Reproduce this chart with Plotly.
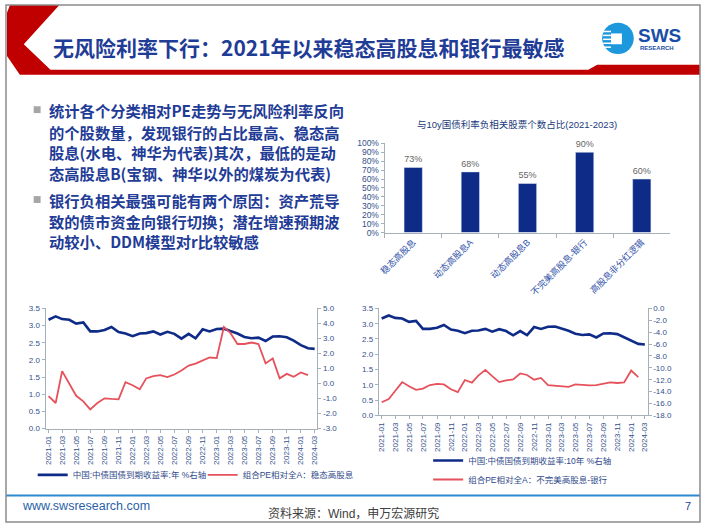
import plotly.graph_objects as go

W, H = 702, 527

# bar chart: share of stocks negatively correlated with 10y yield (2021-2023)
bar_cats = ["稳态高股息", "动态高股息A", "动态高股息B", "不完美高股息-银行", "高股息非分红逻辑"]
bar_vals = [73, 68, 55, 90, 60]

# monthly x labels 2021-01 .. 2024-03
months = [f"{y}-{m:02d}-01" for y in (2021, 2022, 2023, 2024) for m in range(1, 13)][:39]

# China 10y government bond yield (%)
yield_10y = [3.17, 3.27, 3.19, 3.17, 3.06, 3.09, 2.83, 2.83, 2.87, 2.96,
             2.81, 2.77, 2.69, 2.77, 2.78, 2.83, 2.74, 2.82, 2.76, 2.62,
             2.76, 2.63, 2.89, 2.83, 2.90, 2.91, 2.84, 2.77, 2.67, 2.63,
             2.65, 2.55, 2.68, 2.69, 2.66, 2.56, 2.43, 2.34, 2.32]

# relative PE vs all-A: stable high dividend
pe_stable = [-0.84, -1.30, 0.82, 0.01, -0.82, -1.19, -1.73, -1.30, -0.99, -1.03,
             -1.06, 0.08, -0.12, -0.38, 0.34, 0.49, 0.56, 0.42, 0.60, 0.86,
             1.19, 1.32, 1.54, 1.73, 1.69, 3.76, 3.37, 2.63, 2.63, 2.73,
             2.63, 1.34, 1.67, 0.34, 0.64, 0.45, 0.73, 0.56]

# relative PE vs all-A: imperfect high dividend - banks
pe_bank = [-15.8, -15.25, -13.9, -12.4, -13.1, -13.7, -13.5, -12.9, -12.7, -12.8,
           -13.6, -14.1, -12.05, -12.5, -11.3, -10.35, -11.4, -12.4, -12.1, -11.95,
           -10.95, -11.2, -12.0, -11.7, -12.9, -13.0, -13.05, -13.2, -12.8, -12.9,
           -12.95, -12.9, -12.65, -12.45, -12.55, -12.45, -10.45, -11.55]

NAVY = "#0f2b88"
RED = "#e6515b"
TXT = "#1f3c96"
TICK = "#33508c"
AXC = "#a6b0b8"


def fx(x):
    return x / W


def fy(y):
    return 1 - y / H


fig = go.Figure()

fig.add_trace(go.Bar(
    x=bar_cats, y=bar_vals, xaxis="x", yaxis="y", marker_color=NAVY,
    text=[f"{v}%" for v in bar_vals], texttemplate="%{text}", textposition="outside",
    cliponaxis=False, textfont=dict(size=9, color="#666666"), showlegend=False, width=0.32,
))

fig.add_trace(go.Scatter(
    x=months, y=yield_10y, xaxis="x2", yaxis="y2", mode="lines",
    line=dict(color=NAVY, width=2.6), name="中国:中债国债到期收益率:年 %右轴",
    legend="legend",
))
fig.add_trace(go.Scatter(
    x=months[:len(pe_stable)], y=pe_stable, xaxis="x2", yaxis="y3", mode="lines",
    line=dict(color=RED, width=1.8), name="组合PE相对全A：稳态高股息",
    legend="legend",
))
fig.add_trace(go.Scatter(
    x=months, y=yield_10y, xaxis="x3", yaxis="y4", mode="lines",
    line=dict(color=NAVY, width=2.6), name="中国:中债国债到期收益率:10年 %右轴",
    legend="legend2",
))
fig.add_trace(go.Scatter(
    x=months[:len(pe_bank)], y=pe_bank, xaxis="x3", yaxis="y5", mode="lines",
    line=dict(color=RED, width=1.8), name="组合PE相对全A：不完美高股息-银行",
    legend="legend2",
))

tickf = dict(size=8, color=TICK)
date_ax = dict(type="date", range=["2020-12-19", "2024-03-13"], dtick="M2",
               tick0="2021-01-01", tickformat="%Y-%m", tickangle=-90,
               showline=True, linecolor=AXC, ticks="outside", ticklen=3,
               tickcolor=AXC, showgrid=False, tickfont=tickf)
num_ax = dict(showline=True, linecolor=AXC, ticks="outside", ticklen=3,
              tickcolor=AXC, showgrid=False, zeroline=False, tickfont=tickf)


def labels(vals):
    return [f"{v:.1f}" for v in vals]


left_ticks = [i * 0.5 for i in range(8)]
r1_ticks = [-3 + i for i in range(9)]
r2_ticks = [-18 + 2 * i for i in range(10)]

shapes = []
# title banner red chevron + band
shapes.append(dict(type="path", xref="paper", yref="paper", fillcolor="#c00000", line=dict(width=0),
                   path="M {} {} L {} {} L {} {} L {} {} L {} {} L {} {} L {} {} L {} {} L {} {} L {} {} L {} {} Z".format(
                       fx(4), fy(0), fx(54), fy(0), fx(18), fy(40), fx(45), fy(66), fx(589), fy(66),
                       fx(598), fy(61), fx(702), fy(61), fx(702), fy(71), fx(14), fy(71),
                       fx(1), fy(52), fx(1), fy(8))))
# logo
shapes.append(dict(type="circle", xref="paper", yref="paper", x0=fx(603), x1=fx(635), y0=fy(50), y1=fy(18),
                   fillcolor="#1d98dc", line=dict(width=0)))
shapes.append(dict(type="rect", xref="paper", yref="paper", x0=fx(612), x1=fx(623), y0=fy(40), y1=fy(29),
                   fillcolor="white", line=dict(width=0)))
for yy in (27, 31, 35, 39, 43):
    shapes.append(dict(type="line", xref="paper", yref="paper", x0=fx(604), x1=fx(612), y0=fy(yy), y1=fy(yy),
                       line=dict(color="white", width=1.5)))
# bullets
for yy in (106.7, 198.3):
    shapes.append(dict(type="rect", xref="paper", yref="paper", x0=fx(28), x1=fx(35), y0=fy(yy + 3.5),
                       y1=fy(yy - 3.5), fillcolor="#a6a6a6", line=dict(width=0)))
# footer line
shapes.append(dict(type="line", xref="paper", yref="paper", x0=0, x1=1, y0=fy(500), y1=fy(500),
                   line=dict(color="#2e8ad0", width=2)))
# slide border
shapes.append(dict(type="rect", xref="paper", yref="paper", x0=0, x1=1, y0=0, y1=1,
                   line=dict(color="#8c8c8c", width=1.5)))

ann = []
ann.append(dict(text="<b>无风险利率下行：2021年以来稳态高股息和银行最敏感</b>", x=fx(46), y=fy(43),
                xanchor="left", yanchor="middle", showarrow=False, xref="paper", yref="paper",
                font=dict(size=21, color=TXT, family="Noto Sans CJK SC")))
ann.append(dict(text="<b>SWS</b>", x=fx(637), y=fy(31), xanchor="left", yanchor="middle", showarrow=False,
                xref="paper", yref="paper", font=dict(size=19, color="#1a4ea6", family="Arial Black, Liberation Sans")))
ann.append(dict(text="<b>RESEARCH</b>", x=fx(639), y=fy(44), xanchor="left", yanchor="middle", showarrow=False,
                xref="paper", yref="paper", font=dict(size=6, color="#1a4ea6", family="Liberation Sans")))

bullet_lines = [
    ("统计各个分类相对PE走势与无风险利率反向", 106.7),
    ("的个股数量，发现银行的占比最高、稳态高", 129),
    ("股息(水电、神华为代表)其次，最低的是动", 150.3),
    ("态高股息B(宝钢、神华以外的煤炭为代表)", 171.5),
    ("银行负相关最强可能有两个原因：资产荒导", 198.3),
    ("致的债市资金向银行切换；潜在增速预期波", 220),
    ("动较小、DDM模型对r比较敏感", 240.7),
]
for t, yy in bullet_lines:
    ann.append(dict(text=f"<b>{t}</b>", x=fx(41), y=fy(yy), xanchor="left", yanchor="middle",
                    showarrow=False, xref="paper", yref="paper",
                    font=dict(size=15.3, color=TXT, family="Noto Sans CJK SC")))

ann.append(dict(text="与10y国债利率负相关股票个数占比(2021-2023)", x=fx(517), y=fy(122), xanchor="center",
                yanchor="middle", showarrow=False, xref="paper", yref="paper",
                font=dict(size=9.5, color="#203a7a", family="Liberation Sans, Noto Sans CJK SC")))
ann.append(dict(text="www.swsresearch.com", x=fx(14), y=fy(511), xanchor="left", yanchor="middle",
                showarrow=False, xref="paper", yref="paper", font=dict(size=12.5, color="#2a5fa8")))
ann.append(dict(text="资料来源：Wind，申万宏源研究", x=fx(352), y=fy(518), xanchor="center", yanchor="middle",
                showarrow=False, xref="paper", yref="paper", font=dict(size=12, color="#404040")))
ann.append(dict(text="7", x=fx(690), y=fy(511), xanchor="center", yanchor="middle",
                showarrow=False, xref="paper", yref="paper", font=dict(size=11, color="#1f3c96")))

fig.update_layout(
    width=W, height=H, margin=dict(l=0, r=0, t=0, b=0),
    paper_bgcolor="white", plot_bgcolor="white",
    font=dict(family="Liberation Sans, Noto Sans CJK SC", color=TICK),
    shapes=shapes, annotations=ann,
    xaxis=dict(domain=[fx(383), fx(672)], anchor="y", type="category", tickangle=-45,
               showline=True, linecolor=AXC, ticks="outside", tickson="boundaries", ticklen=4,
               tickcolor=AXC, tickfont=dict(size=9, color="#3050a8")),
    yaxis=dict(domain=[fy(232), fy(141)], anchor="x", range=[0, 100], dtick=10, ticksuffix="%",
               showline=True, linecolor=AXC, ticks="outside", ticklen=3, tickcolor=AXC,
               showgrid=False, zeroline=False, tickfont=dict(size=8.5, color=TICK)),
    xaxis2=dict(domain=[fx(40), fx(315)], anchor="y2", **date_ax),
    yaxis2=dict(domain=[fy(431.7), fy(309.3)], anchor="x2", range=[0, 3.5],
                tickvals=left_ticks, ticktext=labels(left_ticks), **num_ax),
    yaxis3=dict(overlaying="y2", side="right", anchor="x2", range=[-3, 5],
                tickvals=r1_ticks, ticktext=labels(r1_ticks), **num_ax),
    xaxis3=dict(domain=[fx(377), fx(649)], anchor="y4", **date_ax),
    yaxis4=dict(domain=[fy(418.3), fy(309.3)], anchor="x3", range=[0, 3.5],
                tickvals=left_ticks, ticktext=labels(left_ticks), **num_ax),
    yaxis5=dict(overlaying="y4", side="right", anchor="x3", range=[-18, 0],
                tickvals=r2_ticks, ticktext=labels(r2_ticks), **num_ax),
    legend=dict(orientation="h", x=fx(27), y=fy(479), xanchor="left", yanchor="middle",
                font=dict(size=8.5, color="#2f4a8a"), itemwidth=30, entrywidth=125,
                bgcolor="rgba(0,0,0,0)", tracegroupgap=0),
    legend2=dict(orientation="v", x=fx(427), y=fy(474), xanchor="left", yanchor="middle",
                 font=dict(size=8.5, color="#2f4a8a"), itemwidth=30,
                 bgcolor="rgba(0,0,0,0)", tracegroupgap=0),
)

fig.write_html("out.html", config={"displayModeBar": False},
               post_script="document.body.style.margin='0';document.documentElement.style.overflow='hidden';")
